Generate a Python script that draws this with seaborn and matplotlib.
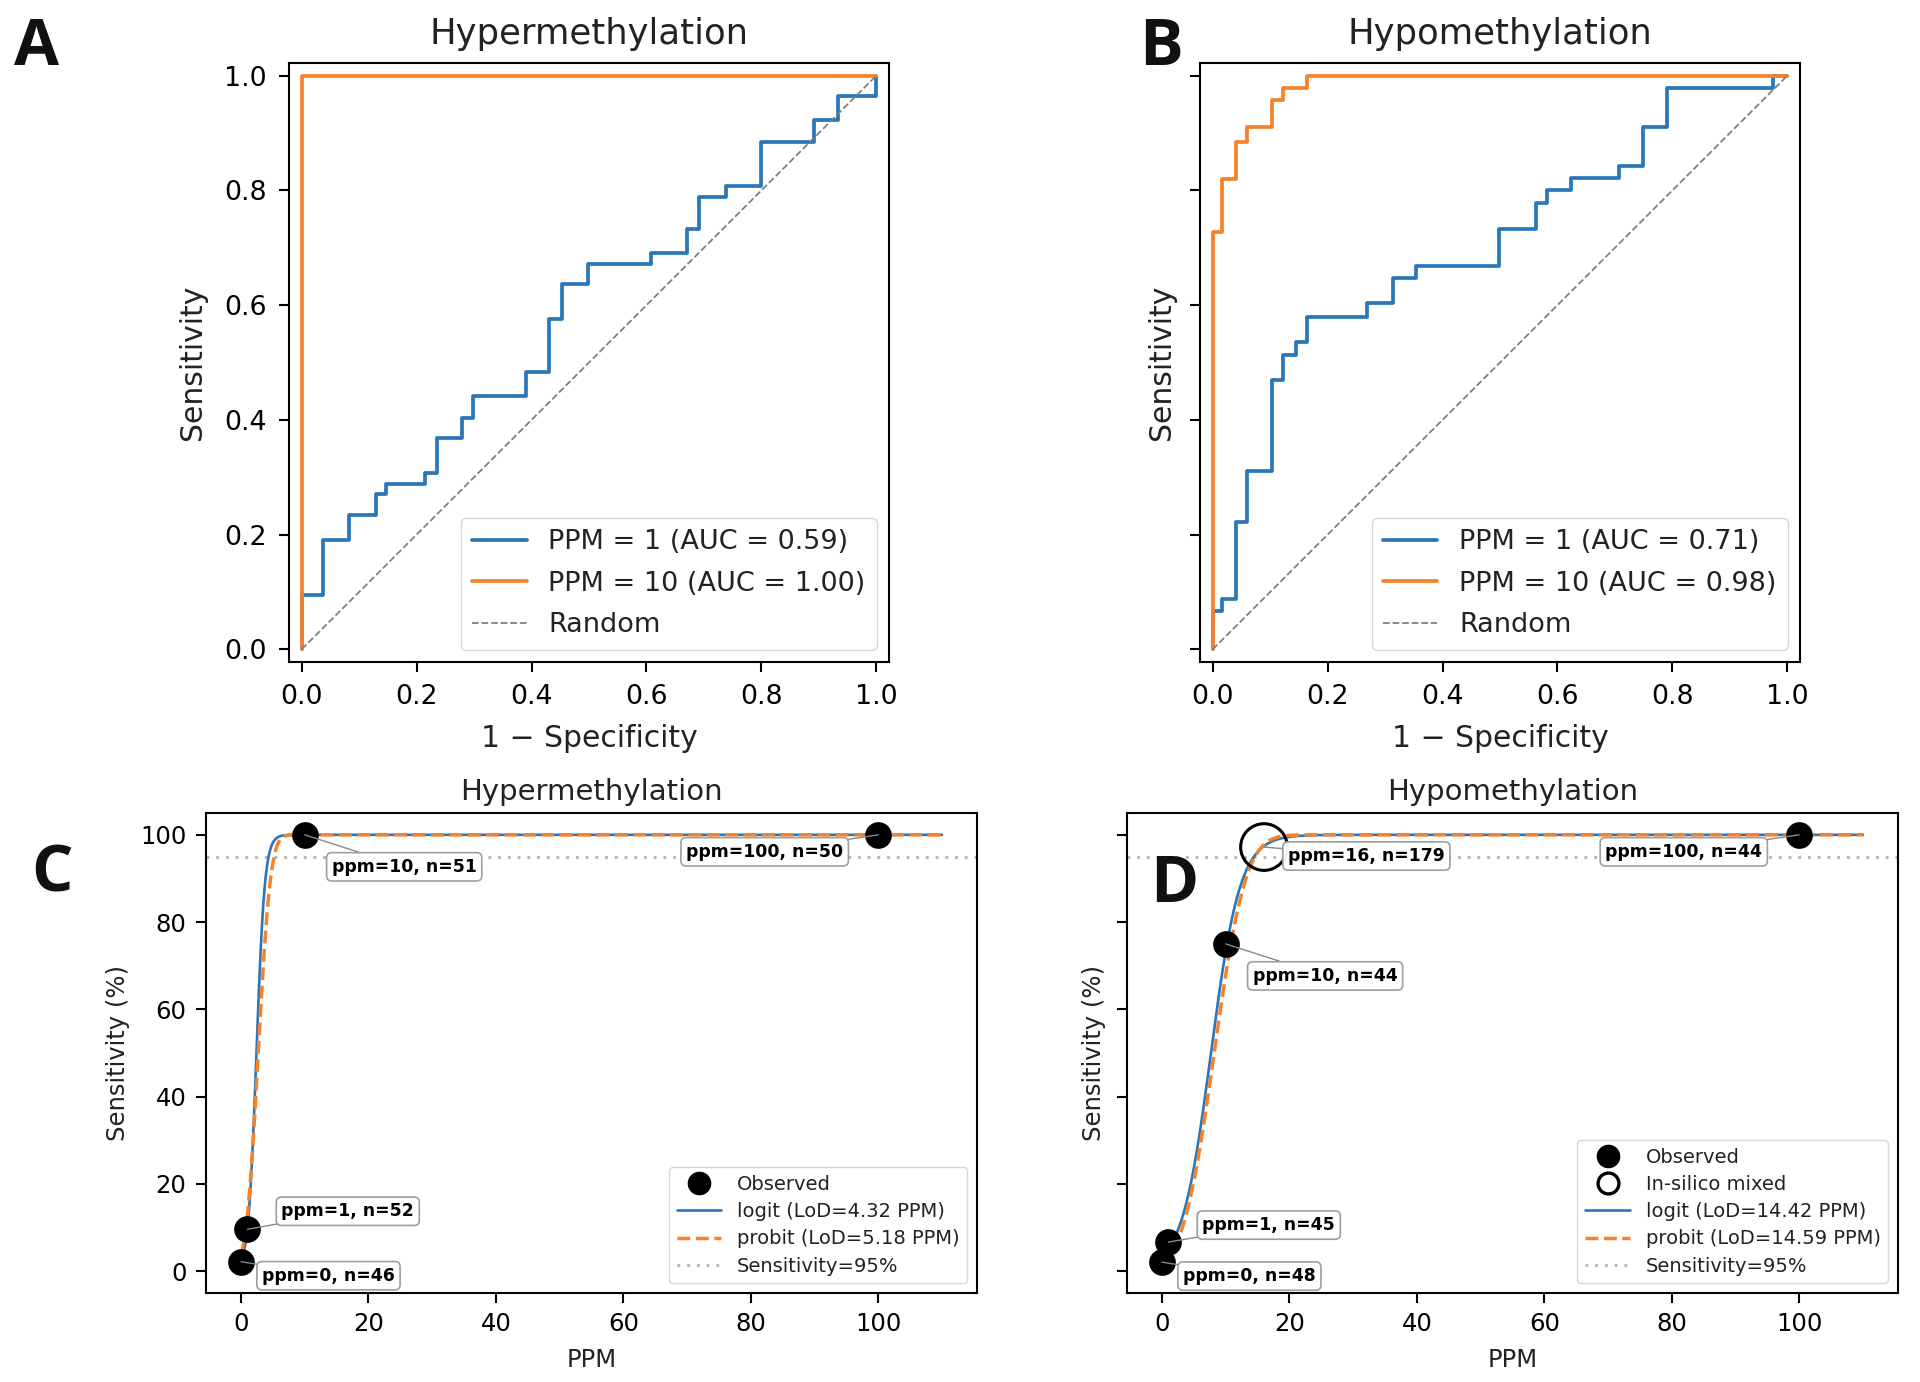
import numpy as np
import matplotlib
matplotlib.use("Agg")
import matplotlib.pyplot as plt
import seaborn as sns
from matplotlib.lines import Line2D
from math import erf, sqrt

# ---------------- data ----------------
roc_titles = ["Hypermethylation", "Hypomethylation"]

# Hypermethylation ROC (step corners, steps-post)
hyper_ppm1_fpr = [0, 0, 0.038, 0.083, 0.129, 0.147, 0.215, 0.236, 0.279, 0.299, 0.390,
                  0.431, 0.453, 0.498, 0.608, 0.670, 0.692, 0.738, 0.800, 0.891, 0.933, 1.0]
hyper_ppm1_tpr = [0, 0.094, 0.191, 0.234, 0.270, 0.289, 0.307, 0.368, 0.404, 0.442, 0.483,
                  0.576, 0.636, 0.672, 0.691, 0.732, 0.788, 0.808, 0.885, 0.923, 0.964, 1.0]
hyper_ppm10_fpr = [0, 0, 1.0]
hyper_ppm10_tpr = [0, 1.0, 1.0]
hyper_auc = [0.59, 1.00]

# Hypomethylation ROC
hypo_ppm1_fpr = [0, 0, 0.017, 0.041, 0.060, 0.104, 0.123, 0.145, 0.165, 0.268, 0.313,
                 0.354, 0.499, 0.562, 0.582, 0.623, 0.707, 0.748, 0.791, 0.975, 1.0]
hypo_ppm1_tpr = [0, 0.067, 0.087, 0.222, 0.311, 0.469, 0.513, 0.535, 0.580, 0.603, 0.647,
                 0.669, 0.732, 0.778, 0.800, 0.822, 0.843, 0.911, 0.978, 1.0, 1.0]
hypo_ppm10_fpr = [0, 0, 0.017, 0.041, 0.060, 0.104, 0.123, 0.165, 1.0]
hypo_ppm10_tpr = [0, 0.728, 0.819, 0.885, 0.911, 0.957, 0.979, 1.0, 1.0]
hypo_auc = [0.71, 0.98]

# LoD observed points
hyper_ppm = [0, 1, 10, 100]
hyper_sens = [2.17, 9.6, 100.0, 100.0]
hyper_n = [46, 52, 51, 50]

hypo_ppm = [0, 1, 10, 100]
hypo_sens = [2.08, 6.67, 75.0, 100.0]
hypo_n = [48, 45, 44, 44]

insilico_ppm = [16]
insilico_sens = [97.2]
insilico_n = [179]

# fitted models: (intercept, slope) on linear predictor, and LoD
hyper_logit = (-3.75, 1.55)
hyper_probit = (-1.79, 0.663)
hyper_lod = [4.32, 5.18]
hypo_logit = (-3.35, 0.4365)
hypo_probit = (-2.10, 0.2567)
hypo_lod = [14.42, 14.59]

# ---------------- style ----------------
sns.set_style("ticks")
plt.rcParams["font.family"] = ["DejaVu Sans"]
plt.rcParams["axes.linewidth"] = 1.5
plt.rcParams["axes.edgecolor"] = "black"
plt.rcParams["xtick.major.width"] = 1.5
plt.rcParams["ytick.major.width"] = 1.5
plt.rcParams["xtick.major.size"] = 7
plt.rcParams["ytick.major.size"] = 7
plt.rcParams["xtick.color"] = "black"
plt.rcParams["ytick.color"] = "black"
plt.rcParams["text.color"] = "#222222"
plt.rcParams["axes.labelcolor"] = "#222222"

BLUE = "#2a76b9"
ORANGE = "#f7822a"

fig = plt.figure(figsize=(19.2, 13.82), dpi=100)
W, H = 1920, 1382


def ax_at(l, t, r, b):
    return fig.add_axes([l / W, 1 - b / H, (r - l) / W, (b - t) / H])


axA = ax_at(289, 63, 889, 662)
axB = ax_at(1200, 63, 1800, 662)
axC = ax_at(206, 813, 977, 1293)
axD = ax_at(1127, 813, 1898, 1293)

# ---------------- ROC panels ----------------
roc_sets = [
    (axA, hyper_ppm1_fpr, hyper_ppm1_tpr, hyper_ppm10_fpr, hyper_ppm10_tpr, hyper_auc, roc_titles[0], True),
    (axB, hypo_ppm1_fpr, hypo_ppm1_tpr, hypo_ppm10_fpr, hypo_ppm10_tpr, hypo_auc, roc_titles[1], False),
]
for ax, f1, t1, f10, t10, auc, title, showy in roc_sets:
    sns.lineplot(x=f1, y=t1, ax=ax, sort=False, estimator=None, color=BLUE, lw=2.7,
                 drawstyle="steps-post", label=f"PPM = 1 (AUC = {auc[0]:.2f})")
    sns.lineplot(x=f10, y=t10, ax=ax, sort=False, estimator=None, color=ORANGE, lw=2.7,
                 drawstyle="steps-post", label=f"PPM = 10 (AUC = {auc[1]:.2f})")
    sns.lineplot(x=[0, 1], y=[0, 1], ax=ax, sort=False, estimator=None, color="gray",
                 lw=1.3, linestyle="--", label="Random")
    ax.set_xlim(-0.022, 1.022)
    ax.set_ylim(-0.022, 1.022)
    ax.set_xticks(np.arange(0, 1.01, 0.2))
    ax.set_yticks(np.arange(0, 1.01, 0.2))
    ax.tick_params(labelsize=19.3, pad=9)
    if not showy:
        ax.set_yticklabels([])
    ax.set_xlabel("1 − Specificity", fontsize=21.5, labelpad=10)
    ax.set_ylabel("Sensitivity", fontsize=21.5, labelpad=12 if showy else 1)
    ax.set_title(title, fontsize=25.5, pad=14)
    ax.legend(loc="lower right", fontsize=19.5, frameon=True, framealpha=0.8,
              edgecolor="#cccccc", fancybox=True, borderpad=0.42, labelspacing=0.58,
              handlelength=2.0, borderaxespad=0.45)

# ---------------- LoD panels ----------------
def logit_curve(x, p):
    return 100.0 / (1.0 + np.exp(-(p[0] + p[1] * x)))


def probit_curve(x, p):
    z = p[0] + p[1] * x
    return 100.0 * np.array([0.5 * (1 + erf(v / sqrt(2))) for v in z])


grid = np.linspace(0, 110, 600)

lod_sets = [
    (axC, hyper_ppm, hyper_sens, hyper_n, hyper_logit, hyper_probit, hyper_lod, "Hypermethylation",
     True, None,
     [(21, -14, "left"), (34, 18, "left"), (27, -32, "left"), (-35, -17, "right")]),
    (axD, hypo_ppm, hypo_sens, hypo_n, hypo_logit, hypo_probit, hypo_lod, "Hypomethylation",
     False, (insilico_ppm, insilico_sens, insilico_n, [(24, -9, "left")]),
     [(21, -14, "left"), (34, 17, "left"), (27, -32, "left"), (-37, -17, "right")]),
]

bbox_kw = dict(boxstyle="round,pad=0.3", fc="white", ec="#999999", lw=1.2, alpha=0.95)
arrow_kw = dict(arrowstyle="-", color="#888888", lw=1.0, shrinkA=0, shrinkB=0)
ANN_FS = 12.4

for ax, ppm, sens, n, plog, pprob, lod, title, showy, insil, offs in lod_sets:
    ax.axhline(95, color="#b0b0b0", lw=2.0, linestyle=(0, (1, 2.5)), zorder=1)
    sns.lineplot(x=grid, y=logit_curve(grid, plog), ax=ax, color=BLUE, lw=1.9,
                 sort=False, estimator=None, zorder=2)
    sns.lineplot(x=grid, y=probit_curve(grid, pprob), ax=ax, color=ORANGE, lw=2.5,
                 linestyle="--", sort=False, estimator=None, zorder=3)
    sns.scatterplot(x=ppm, y=sens, ax=ax, s=370, color="black", edgecolor="black",
                    linewidth=0, zorder=5)
    for (x, y, k), (dx, dy, ha) in zip(zip(ppm, sens, n), offs):
        ax.annotate(f"ppm={x}, n={k}", xy=(x, y), xytext=(dx, dy), textcoords="offset pixels",
                    ha=ha, va="center", fontsize=ANN_FS, fontweight="bold", color="black",
                    bbox=bbox_kw, arrowprops=arrow_kw, zorder=6)
    handles = [Line2D([], [], marker="o", ls="none", color="black", markersize=16)]
    labels = ["Observed"]
    if insil is not None:
        ip, isens, inn, ioffs = insil
        sns.scatterplot(x=ip, y=isens, ax=ax, s=1130, facecolor="none", edgecolor="black",
                        linewidth=2.2, zorder=5)
        for (x, y, k), (dx, dy, ha) in zip(zip(ip, isens, inn), ioffs):
            ax.annotate(f"ppm={x}, n={k}", xy=(x, y), xytext=(dx, dy), textcoords="offset pixels",
                        ha=ha, va="center", fontsize=ANN_FS, fontweight="bold", color="black",
                        bbox=bbox_kw, arrowprops=arrow_kw, zorder=6)
        handles.append(Line2D([], [], marker="o", ls="none", markerfacecolor="white",
                              markeredgecolor="black", markeredgewidth=2.4, markersize=15))
        labels.append("In-silico mixed")
    handles += [Line2D([], [], color=BLUE, lw=1.9),
                Line2D([], [], color=ORANGE, lw=2.5, ls="--"),
                Line2D([], [], color="#b0b0b0", lw=2.0, ls=(0, (1, 2.5)))]
    labels += [f"logit (LoD={lod[0]:.2f} PPM)", f"probit (LoD={lod[1]:.2f} PPM)",
               "Sensitivity=95%"]
    ax.legend(handles, labels, loc="lower right", fontsize=14, frameon=True, framealpha=0.8,
              edgecolor="#cccccc", borderpad=0.4, labelspacing=0.42, handlelength=2.3,
              borderaxespad=0.5)
    ax.set_xlim(-5.5, 115.5)
    ax.set_ylim(-5, 105)
    ax.set_xticks([0, 20, 40, 60, 80, 100])
    ax.set_yticks([0, 20, 40, 60, 80, 100])
    ax.tick_params(labelsize=17.5, pad=7)
    if not showy:
        ax.set_yticklabels([])
    ax.set_xlabel("PPM", fontsize=17.5, labelpad=8)
    ax.set_ylabel("Sensitivity (%)", fontsize=17.5, labelpad=7 if showy else 1)
    ax.set_title(title, fontsize=21, pad=9)

# ---------------- panel letters ----------------
for lab, x, y in [("A", 14, 65), ("B", 1139, 65), ("C", 31, 891), ("D", 1150, 902)]:
    fig.text(x / W, 1 - y / H, lab, fontsize=47, fontweight="bold", family="Open Sans",
             ha="left", va="baseline", color="#111111")

fig.savefig("out.png", dpi=100)
